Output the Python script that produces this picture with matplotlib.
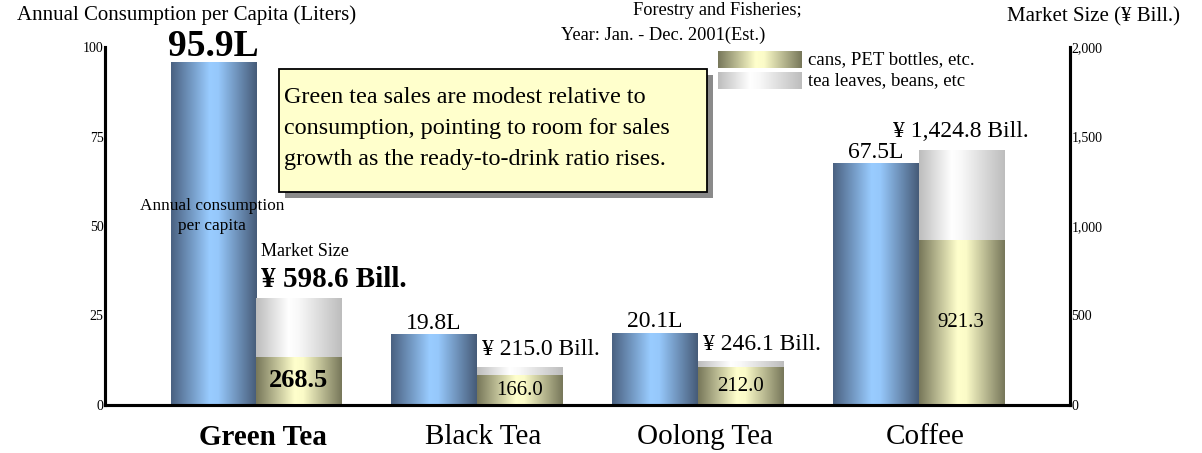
import numpy as np
import matplotlib
matplotlib.use("Agg")
from matplotlib import pyplot as plt
from matplotlib.colors import LinearSegmentedColormap
from matplotlib.patches import Rectangle
from matplotlib.transforms import ScaledTranslation

plt.rcParams['font.family'] = ['Liberation Serif', 'DejaVu Serif']

# per-capita consumption (liters) and market size (yen billion)
drinks = ["Green Tea", "Black Tea", "Oolong Tea", "Coffee"]
liters = [95.9, 19.8, 20.1, 67.5]
market_total = [598.6, 215.0, 246.1, 1424.8]
market_cans = [268.5, 166.0, 212.0, 921.3]
market_leaves = [t - c for t, c in zip(market_total, market_cans)]

left_ticks = [0, 25, 50, 75, 100]
right_ticks = [0, 500, 1000, 1500, 2000]

note = ["Green tea sales are modest relative to",
        "consumption, pointing to room for sales",
        "growth as the ready-to-drink ratio rises."]

W, H = 1202, 453


def fx(x):
    return x / W


def fy(y):
    return 1 - y / H


# horizontal shading for each kind of bar
blue_cm = LinearSegmentedColormap.from_list(
    "blue", [(0, "#4a6181"), (0.45, "#99ccff"), (0.55, "#96c8fb"), (1, "#465b78")])
cans_cm = LinearSegmentedColormap.from_list(
    "cans", [(0, "#77775a"), (0.45, "#ffffcc"), (0.55, "#fbfbc8"), (1, "#77775a")])
leaves_cm = LinearSegmentedColormap.from_list(
    "leaves", [(0, "#bdbdbd"), (0.38, "#ffffff"), (0.5, "#f8f8f8"), (1, "#bdbdbd")])
ramp = np.linspace(0, 1, 256)[None, :]


def shade(axis, bars, cmap):
    for b in bars:
        x0, y0 = b.get_x(), b.get_y()
        im = axis.imshow(ramp, cmap=cmap, aspect='auto', interpolation='bilinear',
                         extent=[x0, x0 + b.get_width(), y0, y0 + b.get_height()],
                         zorder=2)
        im.set_clip_path(b)


fig = plt.figure(figsize=(W / 100, H / 100), dpi=100)
ax = fig.add_axes([fx(105), fy(405), fx(965), 358 / H])
ax2 = ax.twinx()

x = np.arange(len(drinks))
w = 0.385

blue = ax.bar(x, liters, w, color='none', linewidth=0)
cans = ax2.bar(x + w, market_cans, w, color='none', linewidth=0)
leaves = ax2.bar(x + w, market_leaves, w, bottom=market_cans, color='none', linewidth=0)
shade(ax, blue, blue_cm)
shade(ax2, cans, cans_cm)
shade(ax2, leaves, leaves_cm)

ax.set_xlim(-0.489, 3.878)
ax.set_ylim(0, 100)
ax2.set_ylim(0, 2000)

for a in (ax, ax2):
    a.spines['top'].set_visible(False)
    for s in ('left', 'right', 'bottom'):
        a.spines[s].set_linewidth(2.2)
        a.spines[s].set_color('black')

ax.set_yticks(left_ticks)
ax.set_yticklabels([str(t) for t in left_ticks], fontsize=10)
ax.tick_params(axis='y', length=0, pad=1)
ax2.set_yticks(right_ticks)
ax2.set_yticklabels([f"{t:,}" for t in right_ticks], fontsize=10)
ax2.tick_params(axis='y', length=0, pad=1)

ax.set_xticks(x + w / 2)
ax.set_xticklabels(drinks, fontsize=21)
ax.get_xticklabels()[0].set_fontweight('bold')
ax.tick_params(axis='x', length=0, pad=14)
# category names sit a little right of the group centres
nudge = ScaledTranslation(7 / 100, 0, fig.dpi_scale_trans)
for lab in ax.get_xticklabels():
    lab.set_transform(lab.get_transform() + nudge)

# liters above the blue bars
for i, v in enumerate(liters):
    ax.annotate(f"{v}L", (x[i], v), xytext=(0, 4), textcoords='offset points',
                ha='center', va='baseline',
                fontsize=27 if i == 0 else 17,
                fontweight='bold' if i == 0 else 'normal')

# market totals and ready-to-drink share
for i, (t, c) in enumerate(zip(market_total, market_cans)):
    first = i == 0
    label = f"¥ {t:,.1f} Bill."
    if i == len(drinks) - 1:
        ax2.annotate(label, (x[i] + w, t), xytext=(0, 9), textcoords='offset points',
                     ha='center', va='baseline', fontsize=17)
    else:
        ax2.annotate(label, (x[i] + w / 2, t), xytext=(4, 8), textcoords='offset points',
                     ha='left', va='baseline', fontsize=21 if first else 17,
                     fontweight='bold' if first else 'normal')
    ax2.text(x[i] + w, c / 2, f"{c:.1f}", ha='center', va='center',
             fontsize=19 if first else 15,
             fontweight='bold' if first else 'normal', zorder=4)

ax2.annotate("Market Size", (x[0] + w / 2, market_total[0]), xytext=(4, 30),
             textcoords='offset points', ha='left', va='baseline', fontsize=13)
fig.text(fx(212), fy(216), "Annual consumption\nper capita", ha='center', va='center',
         fontsize=12.4, linespacing=1.4)

# axis titles and source note
fig.text(fx(17), fy(20), "Annual Consumption per Capita (Liters)", fontsize=15,
         va='baseline')
fig.text(fx(1180), fy(21), "Market Size (¥ Bill.)", fontsize=15, ha='right',
         va='baseline')
fig.text(fx(633), fy(15), "Forestry and Fisheries;", fontsize=13.2, va='baseline')
fig.text(fx(561), fy(40), "Year: Jan. - Dec. 2001(Est.)", fontsize=13.2, va='baseline')

# legend swatches
for top, cmap, name in [(51, cans_cm, "cans, PET bottles, etc."),
                        (72, leaves_cm, "tea leaves, beans, etc")]:
    sw = fig.add_axes([fx(718), fy(top + 17), fx(83), 17 / H])
    sw.imshow(ramp, cmap=cmap, aspect='auto', interpolation='bilinear')
    sw.axis('off')
    fig.text(fx(808), fy(top + 8.5), name, fontsize=13.5, va='center')

# callout box with drop shadow
fig.patches.append(Rectangle((fx(285), fy(198)), fx(428), 123 / H,
                             transform=fig.transFigure, facecolor='#8a8a8a',
                             edgecolor='none', zorder=5))
fig.patches.append(Rectangle((fx(279), fy(192)), fx(428), 123 / H,
                             transform=fig.transFigure, facecolor='#ffffcc',
                             edgecolor='black', linewidth=1.3, zorder=6))
for k, line in enumerate(note):
    fig.text(fx(284), fy(103 + 31 * k), line, fontsize=17.4, va='baseline', zorder=7)

fig.savefig("out.png", dpi=100)
